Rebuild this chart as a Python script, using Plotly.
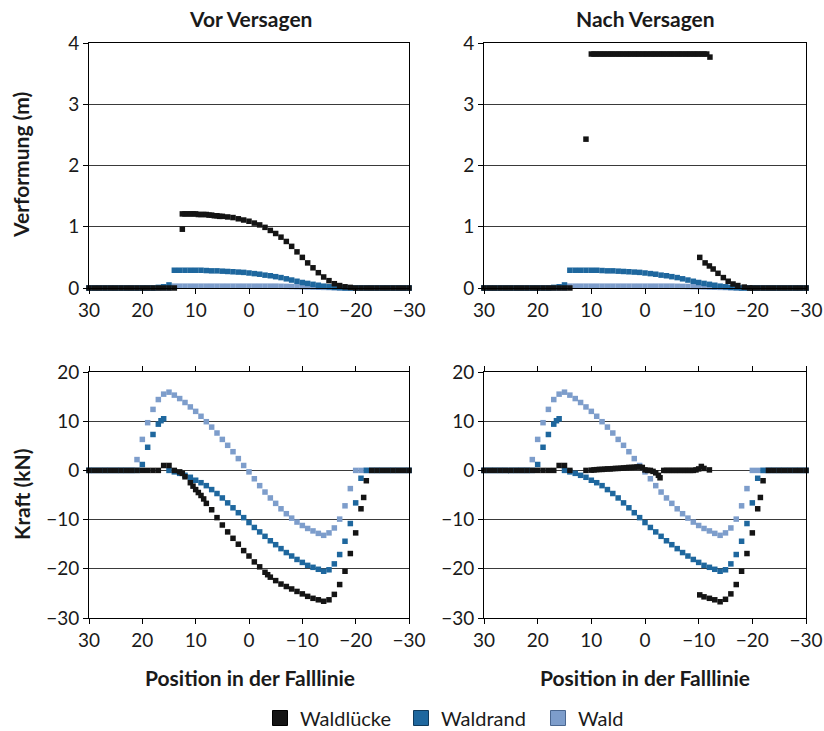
import plotly.graph_objects as go

# ---------------- data ----------------
tick_vals_x = [30, 20, 10, 0, -10, -20, -30]
tick_text_x = ["30", "20", "10", "0", "−10", "−20", "−30"]
tick_vals_top = [0, 1, 2, 3, 4]
tick_text_top = ["0", "1", "2", "3", "4"]
tick_vals_bot = [-30, -20, -10, 0, 10, 20]
tick_text_bot = ["−30", "−20", "−10", "0", "10", "20"]

series_names = ["Waldlücke", "Waldrand", "Wald"]
panel_titles = ["Vor Versagen", "Nach Versagen"]

# --- Verformung (m), vor Versagen, Waldlücke
luecke_top_vor_x = [30, 29, 28, 27, 26, 25, 24, 23, 22, 21, 20, 19, 18, 17, 16, 15, 14,
                    12.5, 12.5, 12, 11.5, 11, 10.5, 10, 9.5, 9, 8.5, 8, 7.5, 7, 6.5, 6, 5.5, 5,
                    4, 3, 2, 1, 0, -1, -2, -3, -4, -5, -6, -7, -8, -9, -10, -11, -12, -13, -14,
                    -15, -16, -17, -18, -19, -20, -21, -22, -23, -24, -25, -26, -27, -28, -29, -30]
luecke_top_vor_y = [0, 0, 0, 0, 0, 0, 0, 0, 0, 0, 0, 0, 0, 0, 0, 0, 0,
                    0.96, 1.21, 1.21, 1.21, 1.21, 1.21, 1.21, 1.20, 1.20, 1.20, 1.20, 1.19, 1.19, 1.18, 1.18, 1.17, 1.17,
                    1.16, 1.15, 1.13, 1.11, 1.09, 1.06, 1.03, 0.99, 0.94, 0.89, 0.83, 0.76, 0.68, 0.59, 0.50, 0.41, 0.33, 0.25, 0.18,
                    0.12, 0.07, 0.04, 0.02, 0.01, 0, 0, 0, 0, 0, 0, 0, 0, 0, 0, 0]

# --- Verformung (m), nach Versagen, Waldlücke
luecke_top_nach_x = [30, 29, 28, 27, 26, 25, 24, 23, 22, 21, 20, 19, 18, 17, 16, 15, 14,
                     11,
                     10, 9.5, 9, 8.5, 8, 7.5, 7, 6.5, 6, 5.5, 5, 4.5, 4, 3.5, 3, 2.5, 2, 1.5, 1, 0.5, 0,
                     -0.5, -1, -1.5, -2, -2.5, -3, -3.5, -4, -4.5, -5, -5.5, -6, -6.5, -7, -7.5, -8, -8.5,
                     -9, -9.5, -10, -10.5, -11, -11.5, -12.1,
                     -10.2, -11.2, -12, -12.7, -13.6, -14.6, -15.5, -16.4, -17.3, -18.5, -19.5,
                     -20, -21, -22, -23, -24, -25, -26, -27, -28, -29, -30]
luecke_top_nach_y = [0, 0, 0, 0, 0, 0, 0, 0, 0, 0, 0, 0, 0, 0, 0, 0, 0,
                     2.43,
                     3.82, 3.82, 3.82, 3.82, 3.82, 3.82, 3.82, 3.82, 3.82, 3.82, 3.82, 3.82, 3.82, 3.82, 3.82, 3.82, 3.82, 3.82, 3.82, 3.82, 3.82,
                     3.82, 3.82, 3.82, 3.82, 3.82, 3.82, 3.82, 3.82, 3.82, 3.82, 3.82, 3.82, 3.82, 3.82, 3.82, 3.82, 3.82,
                     3.82, 3.82, 3.82, 3.82, 3.82, 3.82, 3.77,
                     0.50, 0.41, 0.36, 0.31, 0.24, 0.17, 0.11, 0.065, 0.04, 0.015, 0,
                     0, 0, 0, 0, 0, 0, 0, 0, 0, 0, 0]

# --- Verformung (m), Waldrand (gleich vor/nach)
rand_top_x = [30, 29, 28, 27, 26, 25, 24, 23, 22, 21, 20, 19, 18, 17, 16, 15,
              14, 13, 12, 11, 10, 9, 8, 7, 6, 5, 4, 3, 2, 1, 0, -1, -2, -3, -4, -5, -6, -7, -8, -9,
              -10, -11, -12, -13, -14, -15, -16, -17, -18, -19, -20, -21, -22, -23, -24, -25, -26,
              -27, -28, -29, -30]
rand_top_y = [0, 0, 0, 0, 0, 0, 0, 0, 0, 0, 0, 0, 0, 0.01, 0.02, 0.05,
              0.29, 0.29, 0.29, 0.29, 0.29, 0.29, 0.285, 0.28, 0.28, 0.275, 0.27, 0.265, 0.26, 0.255, 0.245,
              0.235, 0.225, 0.21, 0.20, 0.185, 0.17, 0.15, 0.13, 0.11,
              0.09, 0.075, 0.06, 0.045, 0.03, 0.02, 0.01, 0.005, 0, 0, 0, 0, 0, 0, 0, 0, 0,
              0, 0, 0, 0]

# --- Verformung (m), Wald (gleich vor/nach)
wald_top_x = rand_top_x
wald_top_y = [0, 0, 0, 0, 0, 0, 0, 0, 0, 0, 0, 0, 0, 0, 0, 0,
              0.03, 0.03, 0.03, 0.03, 0.03, 0.03, 0.03, 0.03, 0.03, 0.03, 0.03, 0.03, 0.03, 0.03, 0.03,
              0.03, 0.03, 0.03, 0.03, 0.03, 0.028, 0.026, 0.024, 0.022,
              0.02, 0.018, 0.015, 0.012, 0.01, 0.008, 0.005, 0.003, 0, 0, 0, 0, 0, 0, 0, 0, 0,
              0, 0, 0, 0]

# --- Kraft (kN), Wald (gleich vor/nach)
wald_bot_x = [30, 29, 28, 27, 26, 25, 24, 23, 22,
              21, 20, 19, 18, 17, 16, 15, 14, 13, 12, 11, 10, 9, 8, 7, 6, 5, 4, 3, 2, 1, 0,
              -1, -2, -3, -4, -5, -6, -7, -8, -9, -10, -11, -12, -13, -14, -15, -16, -17, -18,
              -19, -20, -21, -22, -23, -24, -25, -26, -27, -28, -29, -30]
wald_bot_y = [0, 0, 0, 0, 0, 0, 0, 0, 0,
              2.2, 6.3, 9.7, 12.4, 14.4, 15.5, 15.9, 15.3, 14.6, 13.8, 12.9, 12.0, 11.0, 9.9, 8.8, 7.6, 6.3,
              5.1, 3.8, 2.4, 1.0, -0.3,
              -1.7, -3.1, -4.4, -5.6, -6.7, -7.8, -8.8, -9.7, -10.5, -11.2, -11.8, -12.3, -12.8, -13.2,
              -12.7, -11.7, -9.9, -7.2,
              -3.7, 0, 0, 0, 0, 0, 0, 0, 0, 0, 0, 0]

# --- Kraft (kN), Waldrand (gleich vor/nach)
rand_bot_x = [30, 29, 28, 27, 26, 25, 24, 23, 22, 21,
              20, 19, 18, 17, 16.5, 16, 15, 14, 13, 12, 11, 10, 9, 8, 7, 6, 5, 4, 3, 2, 1, 0,
              -1, -2, -3, -4, -5, -6, -7, -8, -9, -10, -11, -12, -13, -14, -15, -16, -17, -18,
              -19, -20, -21, -22, -23, -24, -25, -26, -27, -28, -29, -30]
rand_bot_y = [0, 0, 0, 0, 0, 0, 0, 0, 0, 0,
              1.2, 4.7, 7.3, 9.4, 10.1, 10.5, 0.0, -0.3, -0.6, -1.0, -1.4, -2.0, -2.5, -3.1, -3.9, -4.7,
              -5.6, -6.6, -7.6, -8.6, -9.6, -10.6,
              -11.6, -12.5, -13.4, -14.3, -15.1, -15.9, -16.7, -17.4, -18.1, -18.7, -19.3, -19.7, -20.1,
              -20.5, -20.2, -19.0, -17.1, -14.4,
              -10.8, -6.6, -1.6, 0, 0, 0, 0, 0, 0, 0, 0, 0]

# --- Kraft (kN), vor Versagen, Waldlücke
luecke_bot_vor_x = [30, 29, 28, 27, 26, 25, 24, 23, 22, 21, 20, 19, 18, 17,
                    16, 15, 14, 13, 12.5, 12, 11, 10.5, 10, 9.5, 9, 8.5, 8, 7, 6, 5, 4, 3, 2, 1, 0,
                    -1, -2, -3, -3.5, -4, -5, -6, -7, -8, -9, -10, -11, -12, -13, -14, -15, -16,
                    -17, -18, -19, -20, -21, -21.5, -22,
                    -23, -24, -25, -26, -27, -28, -29, -30]
luecke_bot_vor_y = [0, 0, 0, 0, 0, 0, 0, 0, 0, 0, 0, 0, 0, 0,
                    1.0, 1.0, 0.0, -0.3, -0.6, -1.3, -2.5, -3.2, -3.9, -4.5, -5.1, -5.8, -6.7, -8.0, -9.6,
                    -11.1, -12.5, -13.8, -15.0, -16.3, -17.4,
                    -18.6, -19.6, -20.7, -21.2, -21.7, -22.4, -23.1, -23.6, -24.1, -24.6, -25.1, -25.6,
                    -26.0, -26.3, -26.6, -26.3, -25.2,
                    -23.2, -20.5, -16.9, -12.7, -7.8, -5.5, -2.1,
                    0, 0, 0, 0, 0, 0, 0, 0]

# --- Kraft (kN), nach Versagen, Waldlücke
luecke_bot_nach_x = [30, 29, 28, 27, 26, 25, 24, 23, 22, 21, 20, 19, 18, 17,
                     16, 15, 14, 11, 10, 9.5, 9, 8.5, 8, 7.5, 7, 6.5, 6, 5.5, 5, 4.5, 4, 3.5, 3, 2.5, 2,
                     1.5, 1, 0.5, 0, -0.5, -1, -1.5, -2, -2.5, -2.8, -3.5, -4, -4.5, -5, -5.5, -6, -6.5,
                     -7, -7.5, -8, -8.5, -9, -9.5, -10, -10.5, -11, -12,
                     -10.2, -11, -12, -13, -14, -15, -16, -17, -18, -19, -20, -21, -21.5, -22,
                     -23, -24, -25, -26, -27, -28, -29, -30]
luecke_bot_nach_y = [0, 0, 0, 0, 0, 0, 0, 0, 0, 0, 0, 0, 0, 0,
                     1.0, 1.0, 0.0, 0.0, 0.05, 0.1, 0.15, 0.2, 0.2, 0.25, 0.3, 0.3, 0.35, 0.4, 0.4, 0.45, 0.5,
                     0.55, 0.6, 0.6, 0.65,
                     0.7, 0.7, 0.6, 0.1, 0.0, 0.0, -0.2, -0.5, -1.0, -1.5, 0.0, 0.0, 0.0, 0.0, 0.0, 0.0, 0.0,
                     0.0, 0.0, 0.0, 0.0, 0.0, 0.1, 0.3, 0.8, 0.4, 0.1,
                     -25.3, -25.7, -26.0, -26.3, -26.7, -26.2, -25.1, -23.2, -20.5, -16.9, -12.7, -7.8, -5.5, -2.1,
                     0, 0, 0, 0, 0, 0, 0, 0]

# ---------------- style ----------------
C_LUECKE = "#141414"
C_RAND = "#1e679e"
C_WALD = "#7d9dcb"
FONT = "Lato"
TXT = "#1a1a1a"

W, H = 824, 731
ML, MT = 89, 43
MR = W - 806
MB = H - 618
PW, PH = W - ML - MR, H - MT - MB


def fx(px):
    return (px - ML) / PW


def fy(py):
    return (H - MB - py) / PH


fig = go.Figure()


def add(x, y, color, xa, ya, size=5.5):
    fig.add_trace(go.Scatter(x=x, y=y, mode="markers", xaxis=xa, yaxis=ya,
                             marker=dict(symbol="square", size=size, color=color, line=dict(width=0)),
                             cliponaxis=False, showlegend=False, hoverinfo="x+y"))


# top-left
add(wald_top_x, wald_top_y, C_WALD, "x", "y")
add(rand_top_x, rand_top_y, C_RAND, "x", "y")
add(luecke_top_vor_x, luecke_top_vor_y, C_LUECKE, "x", "y")
# top-right
add(wald_top_x, wald_top_y, C_WALD, "x2", "y2")
add(rand_top_x, rand_top_y, C_RAND, "x2", "y2")
add(luecke_top_nach_x, luecke_top_nach_y, C_LUECKE, "x2", "y2")
# bottom-left
add(wald_bot_x, wald_bot_y, C_WALD, "x3", "y3")
add(rand_bot_x, rand_bot_y, C_RAND, "x3", "y3")
add(luecke_bot_vor_x, luecke_bot_vor_y, C_LUECKE, "x3", "y3")
# bottom-right
add(wald_bot_x, wald_bot_y, C_WALD, "x4", "y4")
add(rand_bot_x, rand_bot_y, C_RAND, "x4", "y4")
add(luecke_bot_nach_x, luecke_bot_nach_y, C_LUECKE, "x4", "y4")

# legend entries (one legend per entry for exact placement)
legend_ids = ["legend", "legend2", "legend3"]
legend_left_px = [260, 401, 538]
for name, col, edge, lid in zip(series_names, [C_LUECKE, C_RAND, C_WALD],
                                ["#000000", "#0f3a5c", "#4a6790"], legend_ids):
    fig.add_trace(go.Scatter(x=[None], y=[None], mode="markers", name=name, xaxis="x", yaxis="y",
                             legend=lid,
                             marker=dict(symbol="square", size=15, color=col, line=dict(width=1, color=edge))))

xl = [0, fx(409)]
xr = [fx(484), 1]
yt = [fy(288), 1]
yb = [0, fy(372)]

xcommon = dict(range=[30, -30], tickmode="array", tickvals=tick_vals_x, ticktext=tick_text_x,
               ticks="outside", ticklen=5, tickcolor="black", tickwidth=1, showline=True,
               linecolor="black", linewidth=1, showgrid=False, zeroline=False,
               ticklabeloverflow="allow",
               tickfont=dict(size=19, color=TXT, family=FONT), fixedrange=True)
ycommon = dict(tickmode="array", ticks="outside", ticklen=5, tickcolor="black", tickwidth=1,
               showline=True, linecolor="black", linewidth=1, mirror=True, showgrid=True,
               gridcolor="#3a3a3a", gridwidth=1, zeroline=False,
               tickfont=dict(size=19, color=TXT, family=FONT), fixedrange=True)

leg_common = dict(orientation="h", xanchor="left", yanchor="middle", y=fy(718),
                  font=dict(size=20, color=TXT, family=FONT), itemwidth=30,
                  bgcolor="rgba(0,0,0,0)", borderwidth=0)

fig.update_layout(
    width=W, height=H,
    margin=dict(l=ML, r=MR, t=MT, b=MB, autoexpand=False),
    paper_bgcolor="white", plot_bgcolor="white",
    font=dict(family=FONT, color=TXT),
    xaxis=dict(domain=xl, anchor="y", mirror=True, **xcommon),
    xaxis2=dict(domain=xr, anchor="y2", mirror=True, **xcommon),
    xaxis3=dict(domain=xl, anchor="y3", mirror="ticks", **xcommon),
    xaxis4=dict(domain=xr, anchor="y4", mirror="ticks", **xcommon),
    yaxis=dict(domain=yt, anchor="x", range=[0, 4], tickvals=tick_vals_top, ticktext=tick_text_top, **ycommon),
    yaxis2=dict(domain=yt, anchor="x2", range=[0, 4], tickvals=tick_vals_top, ticktext=tick_text_top, **ycommon),
    yaxis3=dict(domain=yb, anchor="x3", range=[-30, 20], tickvals=tick_vals_bot, ticktext=tick_text_bot, **ycommon),
    yaxis4=dict(domain=yb, anchor="x4", range=[-30, 20], tickvals=tick_vals_bot, ticktext=tick_text_bot, **ycommon),
    legend=dict(x=fx(legend_left_px[0]), **leg_common),
    legend2=dict(x=fx(legend_left_px[1]), **leg_common),
    legend3=dict(x=fx(legend_left_px[2]), **leg_common),
    showlegend=True,
)

ann = [
    dict(text="<b>" + panel_titles[0] + "</b>", x=fx(250), y=fy(18)),
    dict(text="<b>" + panel_titles[1] + "</b>", x=fx(645), y=fy(18)),
    dict(text="<b>Position in der Falllinie</b>", x=fx(250), y=fy(677)),
    dict(text="<b>Position in der Falllinie</b>", x=fx(645), y=fy(677)),
    dict(text="<b>Verformung (m)</b>", x=fx(21), y=fy(165), textangle=-90),
    dict(text="<b>Kraft (kN)</b>", x=fx(21), y=fy(495), textangle=-90),
]
for a in ann:
    fig.add_annotation(xref="paper", yref="paper", showarrow=False, xanchor="center", yanchor="middle",
                       font=dict(size=21, color=TXT, family=FONT), **a)

# remove the browser's default 8px page margin so the figure fills the window exactly
fig.write_html("out.html", config={"displayModeBar": False},
               post_script="document.body.style.margin='0';document.body.style.overflow='hidden';")
